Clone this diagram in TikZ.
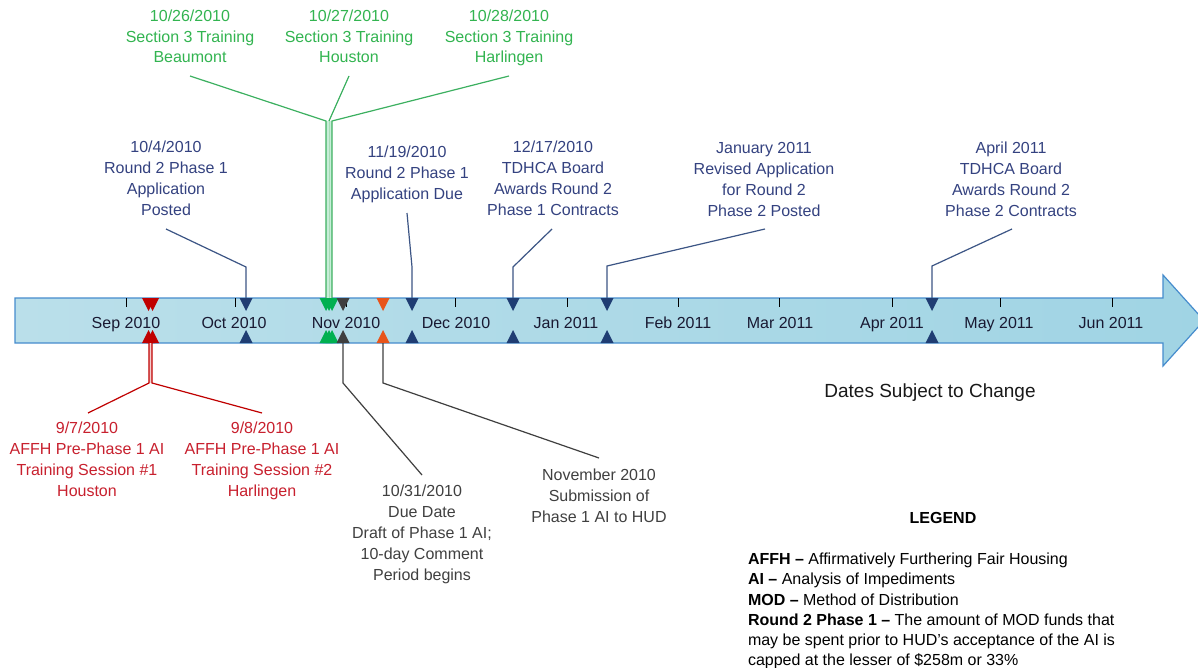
\documentclass[tikz,border=0pt]{standalone}
\usepackage{fontspec}
\setmainfont{Liberation Sans}
\definecolor{barL}{RGB}{186,223,234}
\definecolor{barR}{RGB}{160,212,228}
\definecolor{barB}{RGB}{70,140,205}
\definecolor{navyM}{RGB}{31,61,115}
\definecolor{blueT}{RGB}{52,66,128}
\definecolor{blueC}{RGB}{60,85,133}
\definecolor{greenT}{RGB}{50,180,80}
\definecolor{greenM}{RGB}{0,176,80}
\definecolor{greenC}{RGB}{60,176,96}
\definecolor{redT}{RGB}{200,32,46}
\definecolor{redM}{RGB}{192,0,0}
\definecolor{grayT}{RGB}{64,64,64}
\definecolor{grayM}{RGB}{63,63,63}
\definecolor{orangeM}{RGB}{232,84,26}
\definecolor{monthT}{RGB}{25,25,50}
\newcommand\mymark[3]{%
  \coordinate (#3t) at (#1,-298);
  \coordinate (#3b) at (#1,-343);
  \fill[#2] (#1-6.5,-298) -- (#1+6.5,-298) -- (#1,-311) -- cycle;
  \fill[#2] (#1-6.5,-343) -- (#1+6.5,-343) -- (#1,-330) -- cycle;}
\begin{document}
\begin{tikzpicture}[x=1pt,y=1pt,
  every node/.style={inner sep=0pt, outer sep=0pt, font=\fontsize{16}{21}\selectfont},
  lbl/.style={anchor=north, align=center},
  bluelbl/.style={lbl, text=blueT},
  greenlbl/.style={lbl, text=greenT, font=\fontsize{16}{20.5}\selectfont},
  redlbl/.style={lbl, text=redT},
  graylbl/.style={lbl, text=grayT},
  month/.style={anchor=base, text=monthT},
  tick/.style={black, line width=1pt},
  bconn/.style={blueC, line width=1.2pt},
  gconn/.style={greenC, line width=1.2pt},
  rconn/.style={redM, line width=1.2pt},
  kconn/.style={grayM, line width=1.2pt}]
\clip (0,0) rectangle (1198,-668);
\fill[white] (0,0) rectangle (1198,-668);
% bar
\draw[barB, line width=1.2pt, left color=barL, right color=barR]
  (15,-298) -- (1163,-298) -- (1163,-275) -- (1204,-320.5) -- (1163,-366) -- (1163,-343) -- (15,-343) -- cycle;
% ticks
\foreach \x in {126,235,346,455,567,678,779,892,1000,1112}
  \draw[tick] (\x,-298) -- (\x,-307);
% month labels
\node[month] (sep) at (126,-328) {Sep 2010};
\node[month] (oct) at (234,-328) {Oct 2010};
\node[month] (nov) at (346,-328) {Nov 2010};
\node[month] (dec) at (456,-328) {Dec 2010};
\node[month] (jan) at (566,-328) {Jan 2011};
\node[month] (feb) at (678,-328) {Feb 2011};
\node[month] (mar) at (780,-328) {Mar 2011};
\node[month] (apr) at (892,-328) {Apr 2011};
\node[month] (may) at (999,-328) {May 2011};
\node[month] (jun) at (1111,-328) {Jun 2011};
% markers
\mymark{148.5}{redM}{r1}
\mymark{152.5}{redM}{r2}
\mymark{246}{navyM}{b1}
\mymark{326}{greenM}{g1}
\mymark{329}{greenM}{g2}
\mymark{332}{greenM}{g3}
\mymark{343}{grayM}{k1}
\mymark{383}{orangeM}{o1}
\mymark{412}{navyM}{b2}
\mymark{513}{navyM}{b3}
\mymark{607}{navyM}{b4}
\mymark{932}{navyM}{b5}
% blue labels
\node[bluelbl] (L1) at (166,-141) {10/4/2010\\Round 2 Phase 1\\Application\\Posted};
\node[bluelbl] (L2) at (407,-146) {11/19/2010\\Round 2 Phase 1\\Application Due};
\node[bluelbl] (L3) at (553,-141) {12/17/2010\\TDHCA Board\\Awards Round 2\\Phase 1 Contracts};
\node[bluelbl] (L4) at (764,-142) {January 2011\\Revised Application\\for Round 2\\Phase 2 Posted};
\node[bluelbl] (L5) at (1011,-142) {April 2011\\TDHCA Board\\Awards Round 2\\Phase 2 Contracts};
% green labels
\node[greenlbl] (G1) at (190,-10) {10/26/2010\\Section 3 Training\\Beaumont};
\node[greenlbl] (G2) at (349,-10) {10/27/2010\\Section 3 Training\\Houston};
\node[greenlbl] (G3) at (509,-10) {10/28/2010\\Section 3 Training\\Harlingen};
% red labels
\node[redlbl] (R1) at (87,-422) {9/7/2010\\AFFH Pre-Phase 1 AI\\Training Session \#1\\Houston};
\node[redlbl] (R2) at (262,-422) {9/8/2010\\AFFH Pre-Phase 1 AI\\Training Session \#2\\Harlingen};
% gray labels
\node[graylbl] (K1) at (422,-485) {10/31/2010\\Due Date\\Draft of Phase 1 AI;\\10-day Comment\\Period begins};
\node[graylbl] (K2) at (599,-469) {November 2010\\Submission of\\Phase 1 AI to HUD};
% connector end points
\coordinate (c1) at (166,-229); \coordinate (e1) at (246,-267);
\coordinate (c2) at (407,-213); \coordinate (e2) at (412,-267);
\coordinate (c3) at (552,-229); \coordinate (e3) at (513,-267);
\coordinate (c4) at (765,-229); \coordinate (e4) at (607,-266);
\coordinate (c5) at (1012,-229); \coordinate (e5) at (932,-266);
\coordinate (cg1) at (190,-76); \coordinate (cg2) at (349,-76); \coordinate (cg3) at (509,-76);
\coordinate (jg1) at (326,-121); \coordinate (jg2) at (329,-121); \coordinate (jg3) at (332,-121);
\coordinate (jr1) at (149,-383); \coordinate (jr2) at (152,-383);
\coordinate (cr1) at (88,-413); \coordinate (cr2) at (262,-413);
\coordinate (jk1) at (343,-383); \coordinate (ck1) at (422,-475);
\coordinate (jk2) at (383,-383); \coordinate (ck2) at (599,-458);
% blue connectors
\draw[bconn] (c1) -- (e1) -- (b1t);
\draw[bconn] (c2) -- (e2) -- (b2t);
\draw[bconn] (c3) -- (e3) -- (b3t);
\draw[bconn] (c4) -- (e4) -- (b4t);
\draw[bconn] (c5) -- (e5) -- (b5t);
% green connectors
\fill[greenM!22] (jg1) rectangle (g3t);
\draw[gconn] (cg2) -- (jg2);
\draw[gconn, greenC!45, line width=1pt] (jg2) -- (g2t);
\draw[gconn] (cg1) -- (jg1) -- (g1t);
\draw[gconn] (cg3) -- (jg3) -- (g3t);
% red connectors
\fill[redM!20] (r1b -| jr1) rectangle (jr2);
\draw[rconn] (r1b -| jr1) -- (jr1) -- (cr1);
\draw[rconn] (r2b -| jr2) -- (jr2) -- (cr2);
% gray connectors
\draw[kconn] (k1b) -- (jk1) -- (ck1);
\draw[kconn] (o1b) -- (jk2) -- (ck2);
% other texts
\node[anchor=base, font=\fontsize{19}{23}\selectfont, text=black!90] (dates) at (930,-397) {Dates Subject to Change};
\node[font=\fontsize{16}{20}\selectfont\bfseries] (legtitle) at (943,-518) {LEGEND};
\node[anchor=north west, align=left, font=\fontsize{16}{20.2}\selectfont] (legend) at (748,-553)
 {\textbf{AFFH –} Affirmatively Furthering Fair Housing\\
  \textbf{AI –} Analysis of Impediments\\
  \textbf{MOD –} Method of Distribution\\
  \textbf{Round 2 Phase 1 –} The amount of MOD funds that\\
  may be spent prior to HUD’s acceptance of the AI is\\
  capped at the lesser of \$258m or 33\%};
\end{tikzpicture}
\end{document}
